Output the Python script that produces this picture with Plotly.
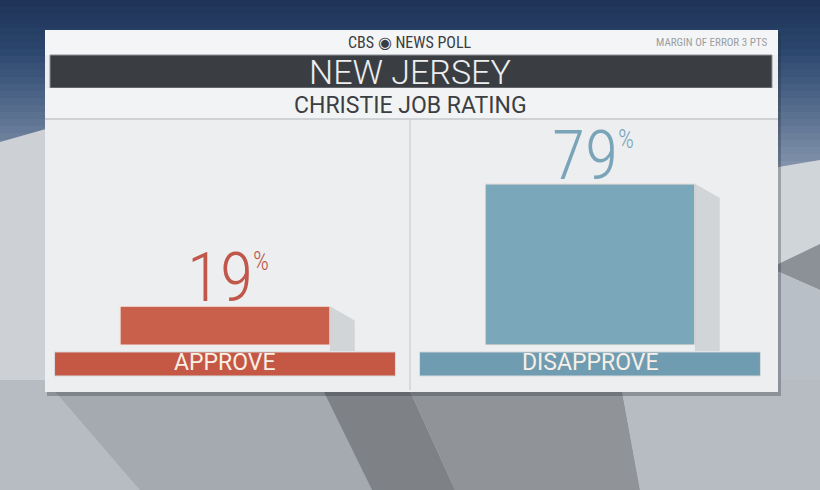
import plotly.graph_objects as go

# ---- data ----
categories = ["APPROVE", "DISAPPROVE"]
values = [19, 79]
value_labels = ["19", "79"]
bar_colors = ["#c9604c", "#7ba7bb"]
label_colors = ["#c45845", "#6f9cb1"]
text_colors = ["#c0574a", "#7aa5b9"]
title = "NEW JERSEY"
subtitle = "CHRISTIE JOB RATING"
source = "CBS \u25c9 NEWS POLL"
margin_note = "MARGIN OF ERROR 3 PTS"

NUMFONT = "Roboto Condensed, Liberation Sans Narrow, Roboto"
FONT = "Roboto, Lato, sans-serif"
W, H = 820, 490
xpos = list(range(len(categories)))
bar_w = 0.575
label_w = 0.934
label_base, label_h = -15.2, 11.8

fig = go.Figure()

# shadows behind bars (derived from data)
for i, v in enumerate(values):
    xr = xpos[i] + bar_w / 2
    d = 0.068
    fig.add_trace(go.Scatter(
        x=[xr, xr + d, xr + d, xr, xr],
        y=[v, v - 7, -3, -3, v],
        fill="toself", fillcolor="rgba(150,155,162,0.30)",
        line=dict(width=0), mode="lines", hoverinfo="skip", showlegend=False))

# main bars
fig.add_trace(go.Bar(
    x=xpos, y=values, width=bar_w,
    marker=dict(color=bar_colors, line=dict(color="#f3e6e0", width=1.2)),
    hoverinfo="skip", showlegend=False))

# category label bars
fig.add_trace(go.Bar(
    x=xpos, y=[label_h] * len(xpos), base=[label_base] * len(xpos), width=label_w,
    marker=dict(color=label_colors, line=dict(color="#d8dadc", width=1)),
    hoverinfo="skip", showlegend=False))

for i, c in enumerate(categories):
    fig.add_annotation(x=xpos[i], y=label_base + label_h / 2, xref="x", yref="y",
                       text=c, showarrow=False, xanchor="center", yanchor="middle", yshift=1,
                       font=dict(family=FONT, size=23, color="#f8efe6", weight=400))

# value annotations
for i, v in enumerate(values):
    fig.add_annotation(
        x=xpos[i], y=v, xref="x", yref="y",
        text=value_labels[i], showarrow=False,
        xanchor="right", yanchor="bottom", yshift=-14, xshift=30,
        font=dict(family=NUMFONT, size=68, color=text_colors[i], weight=300))
    fig.add_annotation(
        x=xpos[i], y=v, xref="x", yref="y",
        text="%", showarrow=False,
        xanchor="left", yanchor="top", yshift=61, xshift=26,
        font=dict(family=NUMFONT, size=25, color=text_colors[i], weight=300))

# ---- decoration (background, card) ----
shapes = []
stops = [(0, (0x1e, 0x33, 0x56)), (50, (0x2b, 0x46, 0x6e)), (100, (0x4e, 0x66, 0x88)),
         (170, (0x85, 0x96, 0xad)), (392, (0xc4, 0xc8, 0xcc)), (490, (0xb4, 0xb7, 0xba))]
def col_at(y):
    for (y0, c0), (y1, c1) in zip(stops[:-1], stops[1:]):
        if y0 <= y <= y1:
            t = (y - y0) / (y1 - y0)
            return "rgb(%d,%d,%d)" % tuple(round(a + (b - a) * t) for a, b in zip(c0, c1))
    return "rgb(180,183,186)"
step = 7
for y in range(0, H, step):
    shapes.append(dict(type="rect", xref="paper", yref="paper", layer="below",
                       x0=0, x1=1, y0=1 - (y + step) / H, y1=1 - y / H,
                       fillcolor=col_at(y + step / 2), line=dict(width=0)))

def px_path(pts, fill):
    p = "M " + " L ".join("%.4f,%.4f" % (x / W, 1 - y / H) for x, y in pts) + " Z"
    return dict(type="path", xref="paper", yref="paper", layer="below", path=p,
                fillcolor=fill, line=dict(width=0))

def px_rect(x0, y0, x1, y1, fill, line=None):
    return dict(type="rect", xref="paper", yref="paper", layer="below",
                x0=x0 / W, x1=x1 / W, y0=1 - y1 / H, y1=1 - y0 / H,
                fillcolor=fill, line=line or dict(width=0))

# background planes beside / below card
shapes.append(px_path([(0, 142), (60, 125), (60, 392), (0, 392)], "#cdd1d6"))
shapes.append(px_path([(760, 170), (820, 160), (820, 392), (760, 392)], "#d0d5da"))
shapes.append(px_path([(770, 268), (820, 244), (820, 290)], "#8b9197"))
shapes.append(px_path([(770, 268), (820, 290), (820, 392), (770, 392)], "#b8bfc6"))
shapes.append(px_path([(0, 380), (45, 380), (140, 490), (0, 490)], "#b7bcc3"))
shapes.append(px_path([(45, 380), (318, 380), (372, 490), (140, 490)], "#a5aab1"))
shapes.append(px_path([(318, 380), (405, 380), (455, 490), (372, 490)], "#7e8286"))
shapes.append(px_path([(405, 380), (620, 380), (640, 490), (455, 490)], "#909498"))
shapes.append(px_path([(620, 380), (820, 380), (820, 490), (640, 490)], "#b6bcc2"))

# card
shapes.append(px_rect(47, 33, 781, 396, "rgba(40,45,55,0.30)"))
shapes.append(px_rect(45, 30, 778, 392, "#eceef0"))
shapes.append(px_rect(45, 30, 778, 55, "#f4f5f6"))
shapes.append(px_rect(50, 55, 772, 88, "#3a3e43", dict(color="#8d9196", width=1)))
shapes.append(px_rect(45, 88, 778, 119, "#f2f3f4"))
shapes.append(dict(type="line", xref="paper", yref="paper", layer="below",
                   x0=45 / W, x1=778 / W, y0=1 - 119 / H, y1=1 - 119 / H,
                   line=dict(color="#c5c9cd", width=1.5)))
shapes.append(dict(type="line", xref="paper", yref="paper", layer="below",
                   x0=410 / W, x1=410 / W, y0=1 - 390 / H, y1=1 - 119 / H,
                   line=dict(color="#d0d3d6", width=1.5)))

annotations = [
    dict(x=410 / W, y=1 - 42 / H, text=source,
         font=dict(family=NUMFONT, size=16, color="#3a3d41"), xanchor="center"),
    dict(x=769 / W, y=1 - 43 / H, text=margin_note,
         font=dict(family=NUMFONT, size=11, color="#9a9ea3"), xanchor="right"),
    dict(x=410 / W, y=1 - 72 / H, text=title,
         font=dict(family=FONT, size=34, color="#eceef0", weight=300), xanchor="center"),
    dict(x=410 / W, y=1 - 105 / H, text=subtitle,
         font=dict(family=FONT, size=23, color="#3b3e42", weight=400), xanchor="center"),
]
for a in annotations:
    fig.add_annotation(xref="paper", yref="paper", showarrow=False, yanchor="middle", **a)

px_per_x = 365.0
x_center0 = 225.0
px_per_y = 2.04
y_zero = 345.0

fig.update_layout(
    width=W, height=H, margin=dict(l=0, r=0, t=0, b=0),
    paper_bgcolor="#9aa3ad", plot_bgcolor="rgba(0,0,0,0)",
    shapes=shapes, barmode="overlay", showlegend=False,
    xaxis=dict(range=[-x_center0 / px_per_x, (W - x_center0) / px_per_x],
               visible=False, fixedrange=True),
    yaxis=dict(range=[-(H - y_zero) / px_per_y, y_zero / px_per_y],
               visible=False, fixedrange=True),
)

fig.write_html("out.html", config={"displayModeBar": False},
               post_script="document.body.style.margin='0';document.body.style.padding='0';"
                           "document.body.style.overflow='hidden';")
